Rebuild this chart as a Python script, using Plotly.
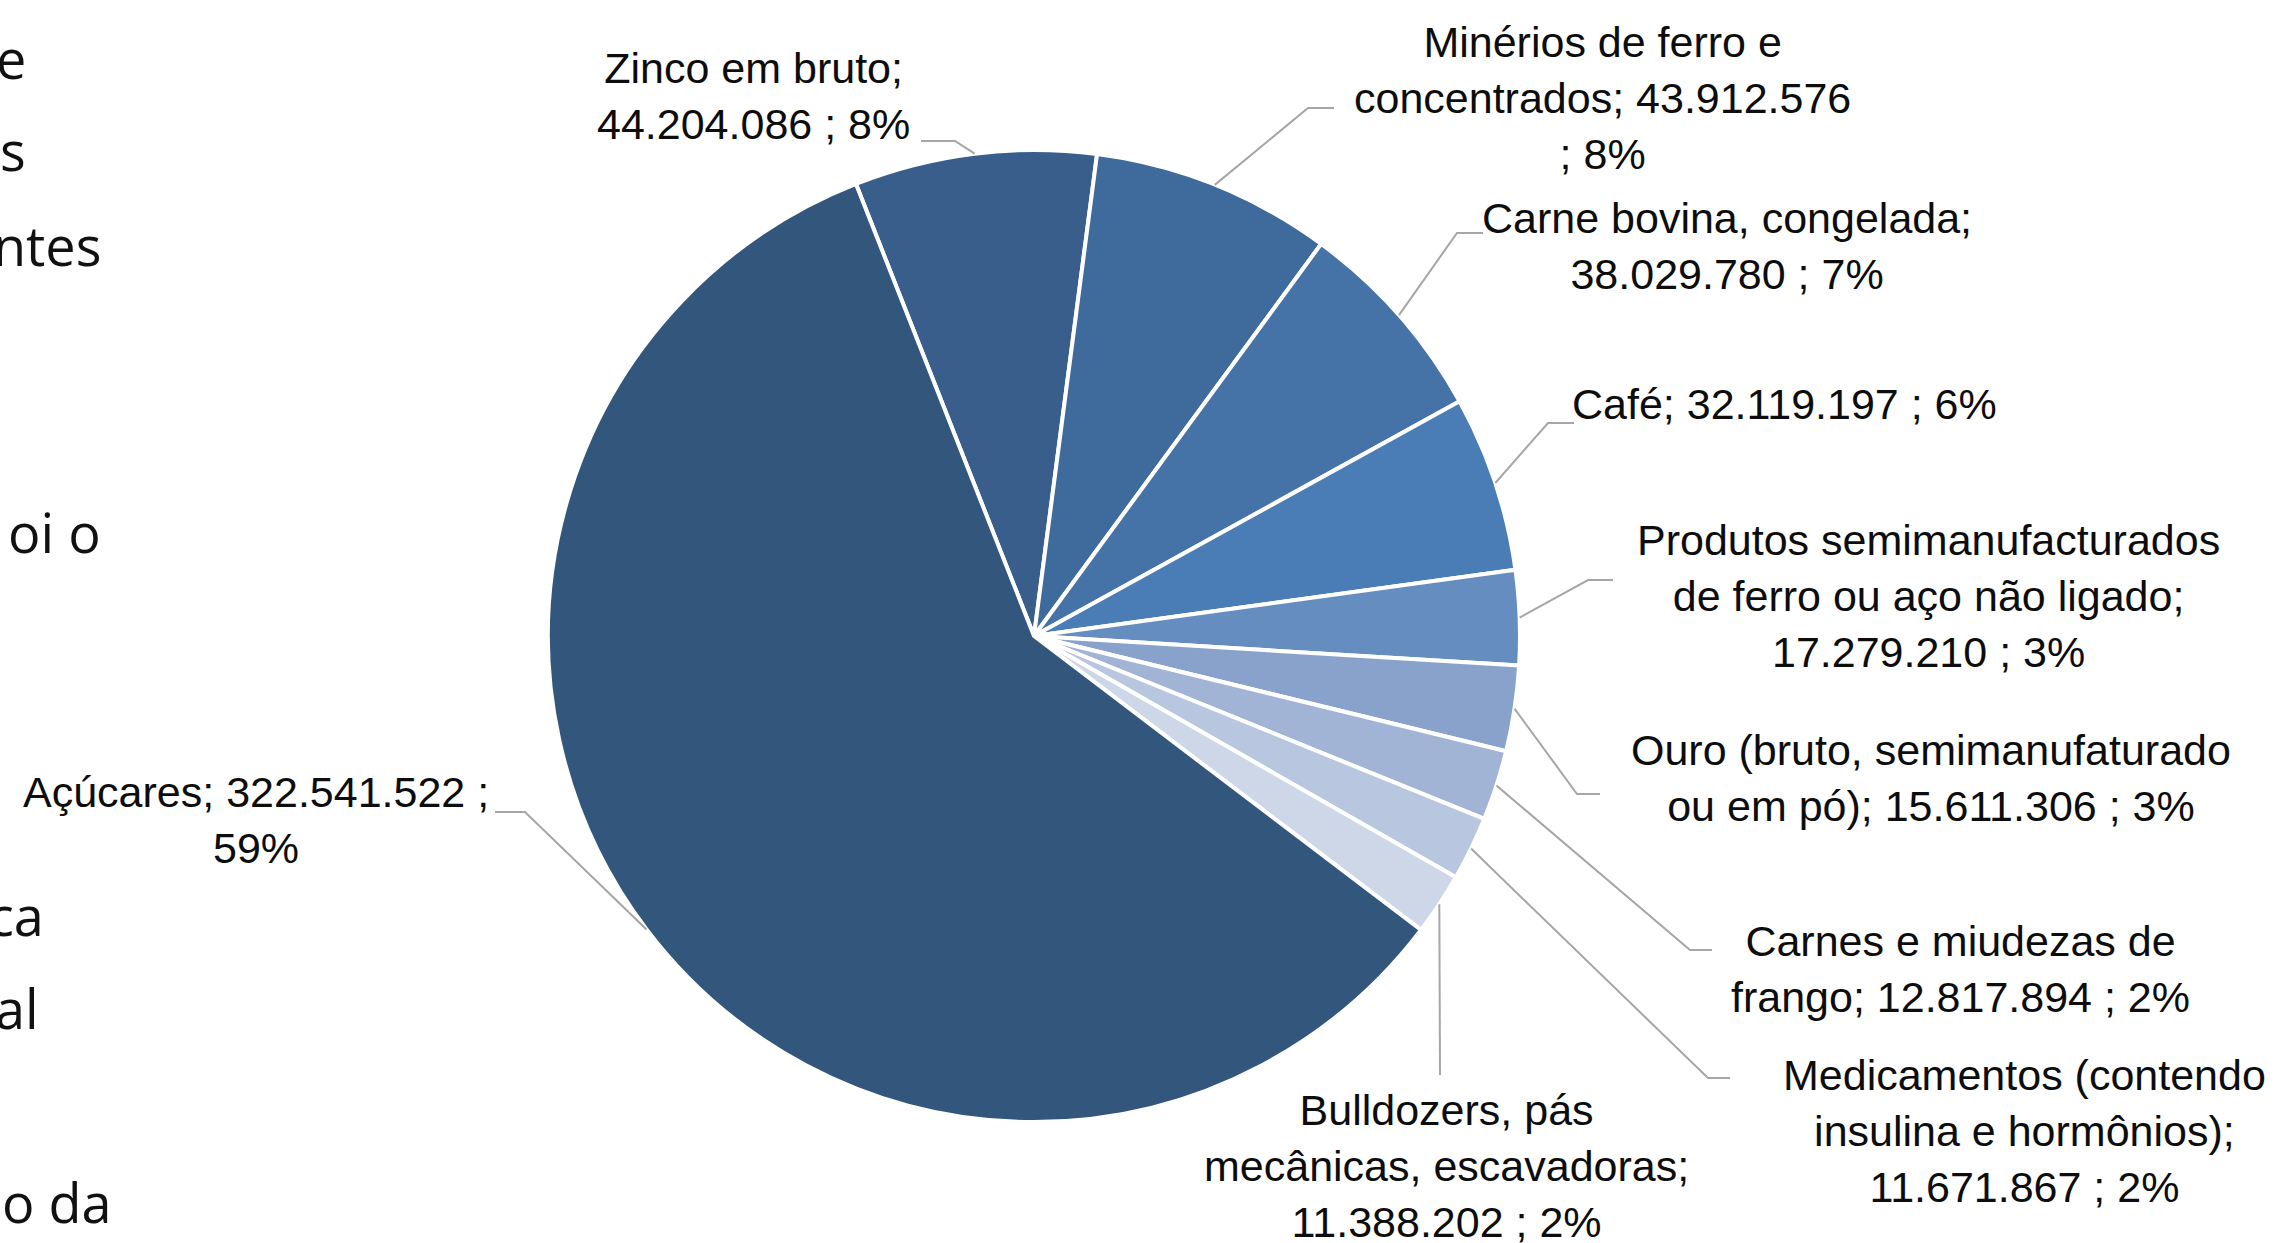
import math
import textwrap
import plotly.graph_objects as go

# ---------------- data ----------------
categories = [
    "Zinco em bruto",
    "Minérios de ferro e concentrados",
    "Carne bovina, congelada",
    "Café",
    "Produtos semimanufacturados de ferro ou aço não ligado",
    "Ouro (bruto, semimanufaturado ou em pó)",
    "Carnes e miudezas de frango",
    "Medicamentos (contendo insulina e hormônios)",
    "Bulldozers, pás mecânicas, escavadoras",
    "Açúcares",
]
values = [44204086, 43912576, 38029780, 32119197, 17279210,
          15611306, 12817894, 11671867, 11388202, 322541522]
colors = ["#3A5E8C", "#3F6A9C", "#4572A7", "#4A7CB5", "#668DC0",
          "#88A2CB", "#A2B4D6", "#B8C6E0", "#CED7E8", "#33567D"]

# surrounding page text fragments (cropped screenshot)
side_text = ["e", "s", "ntes", "oi o", "ca", "al", "o da"]

# ---------------- layout constants (pixels) ----------------
W, H = 2285, 1243
CX, CY, R = 1034, 636, 486
ROTATION = -21.5
FONT = "Liberation Sans"
FS = 43

# label box centre, wrap width, leader elbow, leader end
label_layout = [
    dict(pos=(753, 96), wrap=16, elbow=(955, 141), end=(921, 141)),
    dict(pos=(1602, 98), wrap=24, elbow=(1308, 108), end=(1334, 108)),
    dict(pos=(1727, 246), wrap=24, elbow=(1457, 233), end=(1483, 233)),
    dict(pos=(1784, 404), wrap=40, elbow=(1548, 423), end=(1574, 423)),
    dict(pos=(1928, 596), wrap=27, elbow=(1588, 580), end=(1613, 580)),
    dict(pos=(1931, 778), wrap=29, elbow=(1577, 794), end=(1600, 794)),
    dict(pos=(1960, 969), wrap=23, elbow=(1690, 950), end=(1712, 950)),
    dict(pos=(2024, 1131), wrap=22, elbow=(1708, 1078), end=(1730, 1078)),
    dict(pos=(1446, 1166), wrap=23, elbow=(1440, 1075), end=(1440, 1075)),
    dict(pos=(256, 820), wrap=23, elbow=(525, 812), end=(495, 812)),
]
side_layout = [(28, 58), (28, 150), (103, 245), (103, 532), (46, 915), (41, 1008), (114, 1202)]


def px(x):
    return x / W


def py(y):
    return 1 - y / H


fig = go.Figure()
fig.add_trace(go.Pie(
    labels=categories,
    values=values,
    sort=False,
    direction="clockwise",
    rotation=ROTATION,
    marker=dict(colors=colors, line=dict(color="white", width=4)),
    textinfo="none",
    hoverinfo="label+value+percent",
    showlegend=False,
    domain=dict(x=[px(CX - R), px(CX + R)], y=[py(CY + R), py(CY - R)]),
))

total = sum(values)
annotations = []
shapes = []
cum = 0
for name, v, lay in zip(categories, values, label_layout):
    mid = ROTATION + (cum + v / 2) / total * 360
    cum += v
    th = math.radians(mid)
    ex, ey = CX + R * math.sin(th), CY - R * math.cos(th)
    val = f"{v:,}".replace(",", ".")
    pct = round(v / total * 100)
    full = f"{name}; {val} ; {pct}%"
    text = "<br>".join(textwrap.wrap(full, width=lay["wrap"]))
    annotations.append(dict(
        x=px(lay["pos"][0]), y=py(lay["pos"][1]), xref="paper", yref="paper",
        text=text, showarrow=False, xanchor="center", yanchor="middle",
        align="center", font=dict(family=FONT, size=FS, color="#0D0D0D"),
    ))
    (bx, by), (qx, qy) = lay["elbow"], lay["end"]
    shapes.append(dict(
        type="path", xref="paper", yref="paper",
        path=f"M {px(ex)} {py(ey)} L {px(bx)} {py(by)} L {px(qx)} {py(qy)}",
        line=dict(color="#A6A6A6", width=2),
    ))

for t, (x, y) in zip(side_text, side_layout):
    annotations.append(dict(
        x=px(x), y=py(y), xref="paper", yref="paper", text=t, showarrow=False,
        xanchor="right", yanchor="middle",
        font=dict(family="Open Sans", size=54, color="#111111"),
    ))

fig.update_layout(
    width=W, height=H,
    margin=dict(l=0, r=0, t=0, b=0),
    paper_bgcolor="white", plot_bgcolor="white",
    annotations=annotations, shapes=shapes,
)

fig.write_html(
    "out.html",
    config={"displayModeBar": False},
    post_script="document.body.style.margin='0';document.body.style.overflow='hidden';",
)
